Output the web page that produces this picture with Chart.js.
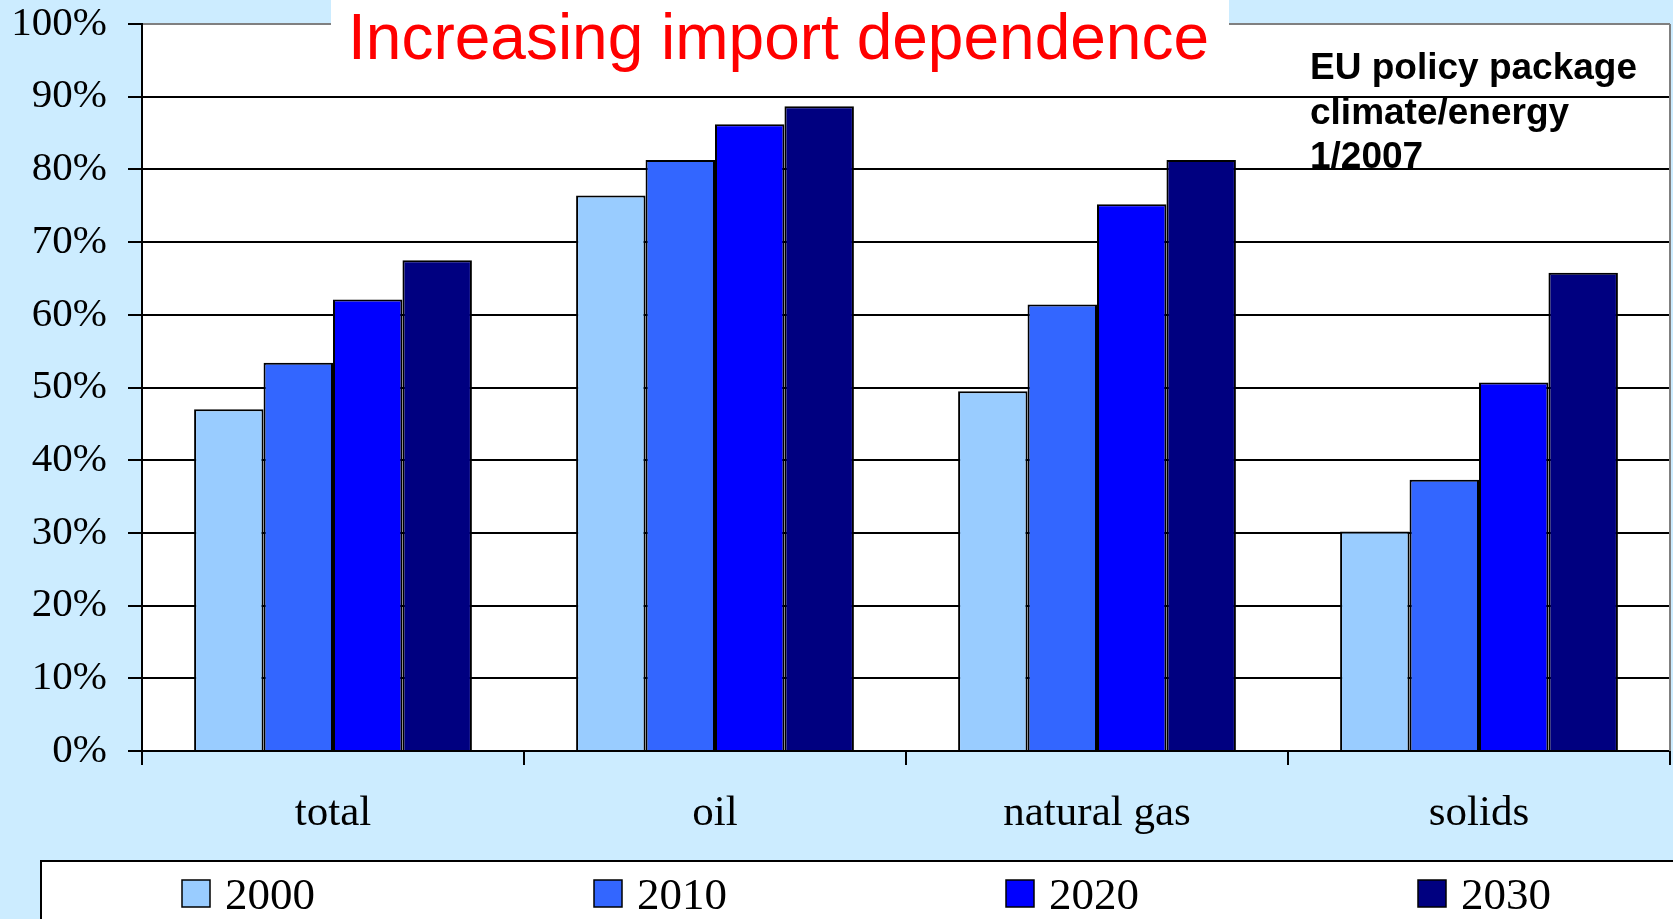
<!DOCTYPE html>
<html>
<head>
<meta charset="utf-8">
<script src="https://cdn.jsdelivr.net/npm/chart.js@4/dist/chart.umd.min.js"></script>
<style>
  html, body { margin: 0; padding: 0; background: #CCECFF; }
  canvas { display: block; }
</style>
</head>
<body>
<canvas id="c" width="1673" height="919"></canvas>
<script>
// ---- data ----
const categories = ['total', 'oil', 'natural gas', 'solids'];
const seriesLabels = ['2000', '2010', '2020', '2030'];
const v2000 = [47.0, 76.4, 49.5, 30.2];
const v2010 = [53.4, 81.3, 61.4, 37.3];
const v2020 = [62.1, 86.2, 75.2, 50.7];
const v2030 = [67.5, 88.7, 81.3, 65.8];
const seriesColors = ['#99CCFF', '#3366FF', '#0000FF', '#000080'];
const yTickValues = [0, 10, 20, 30, 40, 50, 60, 70, 80, 90, 100];
const titleText = 'Increasing import dependence';
const noteLines = ['EU policy package', 'climate/energy', '1/2007'];

const seriesValues = [v2000, v2010, v2020, v2030];

const SERIF = "'Liberation Serif', 'Times New Roman', serif";
const SANS = "'Liberation Sans', Arial, sans-serif";

const decor = {
  id: 'decor',
  beforeDraw(chart) {
    const ctx = chart.ctx, a = chart.chartArea;
    ctx.save();
    ctx.fillStyle = '#CCECFF';
    ctx.fillRect(0, 0, chart.width, chart.height);
    ctx.fillStyle = '#FFFFFF';
    ctx.fillRect(a.left, a.top, a.right - a.left, a.bottom - a.top);
    ctx.restore();
  },
  afterDraw(chart) {
    const ctx = chart.ctx, a = chart.chartArea;
    ctx.save();
    // right border of plot area
    ctx.strokeStyle = '#808080';
    ctx.lineWidth = 2;
    ctx.beginPath();
    ctx.moveTo(a.right, a.top);
    ctx.lineTo(a.right, a.bottom);
    ctx.stroke();

    // title box + title
    ctx.fillStyle = '#FFFFFF';
    ctx.fillRect(331, 0, 898, 27);
    ctx.fillStyle = '#FF0000';
    ctx.font = '64px ' + SANS;
    ctx.textAlign = 'left';
    ctx.textBaseline = 'alphabetic';
    ctx.fillText(titleText, 348, 59);

    // note
    ctx.fillStyle = '#000000';
    ctx.font = 'bold 37px ' + SANS;
    const noteY = [79, 124, 168];
    noteLines.forEach((t, i) => ctx.fillText(t, 1310, noteY[i]));

    // legend box
    ctx.fillStyle = '#FFFFFF';
    ctx.fillRect(41, 861, 1700, 100);
    ctx.strokeStyle = '#000000';
    ctx.lineWidth = 2;
    ctx.strokeRect(41, 861, 1700, 100);

    ctx.font = '45px ' + SERIF;
    chart.data.datasets.forEach((ds, i) => {
      const x = 182 + i * 412;
      ctx.fillStyle = ds.backgroundColor;
      ctx.fillRect(x, 880, 28, 27);
      ctx.lineWidth = 1.5;
      ctx.strokeStyle = '#000';
      ctx.strokeRect(x, 880, 28, 27);
      ctx.fillStyle = '#000';
      ctx.fillText(ds.label, x + 43, 909);
    });
    ctx.restore();
  }
};

new Chart(document.getElementById('c'), {
  type: 'bar',
  data: {
    labels: categories,
    datasets: seriesLabels.map((lab, i) => ({
      label: lab,
      data: seriesValues[i],
      backgroundColor: seriesColors[i],
      borderColor: '#000000',
      borderWidth: 2,
      categoryPercentage: 4 / 5.5,
      barPercentage: 1.0
    }))
  },
  options: {
    responsive: false,
    animation: false,
    devicePixelRatio: 1,
    layout: { padding: { top: 24, right: 3, left: 0, bottom: 0 } },
    plugins: {
      legend: { display: false },
      title: { display: false },
      tooltip: { enabled: false }
    },
    scales: {
      x: {
        grid: {
          display: true,
          drawOnChartArea: false,
          drawTicks: true,
          tickLength: 14,
          color: '#000000',
          lineWidth: 2
        },
        border: { display: true, color: '#000000', width: 2 },
        ticks: {
          color: '#000000',
          font: { family: SERIF, size: 43, lineHeight: 1.2 },
          padding: 23,
          maxRotation: 0,
          autoSkip: false
        },
        afterFit(s) { s.height = 168; s.paddingLeft = 0; s.paddingRight = 0; }
      },
      y: {
        min: 0,
        max: 100,
        afterBuildTicks(s) { s.ticks = yTickValues.map(v => ({ value: v })); },
        grid: {
          color: (c) => (c.tick && c.tick.value === 100) ? '#808080' : '#000000',
          tickColor: '#000000',
          lineWidth: 2,
          drawTicks: true,
          tickLength: 14
        },
        border: { display: true, color: '#000000', width: 2 },
        ticks: {
          color: '#000000',
          font: { family: SERIF, size: 41, lineHeight: 1.2 },
          padding: 21,
          callback: (v) => v + '%'
        },
        afterFit(s) { s.width = 142; s.paddingTop = 0; s.paddingBottom = 0; }
      }
    }
  },
  plugins: [decor]
});
</script>
</body>
</html>
